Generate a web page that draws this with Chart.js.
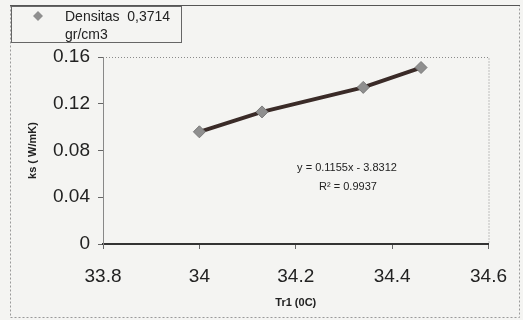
<!DOCTYPE html>
<html>
<head>
<meta charset="utf-8">
<script src="https://cdn.jsdelivr.net/npm/chart.js@4/dist/chart.umd.min.js"></script>
<style>
  html, body { margin: 0; padding: 0; background: #f4f4f2; }
  #wrap { width: 523px; height: 320px; }
</style>
</head>
<body>
<div id="wrap"><canvas id="chart" width="523" height="320"></canvas></div>
<script>
// data
const tr1 = [34.0, 34.13, 34.34, 34.46];
const ks = [0.096, 0.113, 0.134, 0.151];
const seriesLabel = ['Densitas  0,3714', 'gr/cm3'];
const trendText = ['y = 0.1155x - 3.8312', 'R² = 0.9937'];

const points = tr1.map((x, i) => ({ x: x, y: ks[i] }));
const tickFormat = (v) => String(parseFloat(v.toFixed(3)));

// page frame, plot border, legend box and trendline label
const decorations = {
  id: 'decorations',
  beforeDraw(chart) {
    const ctx = chart.ctx;
    ctx.save();
    ctx.fillStyle = '#f4f4f2';
    ctx.fillRect(0, 0, chart.width, chart.height);
    ctx.strokeStyle = '#9a9a9a';
    ctx.lineWidth = 1;
    ctx.setLineDash([2, 2]);
    ctx.strokeRect(10.5, 5.5, 509, 312);
    ctx.setLineDash([]);
    ctx.strokeStyle = '#555';
    ctx.beginPath();
    ctx.moveTo(10, 5.5);
    ctx.lineTo(520, 5.5);
    ctx.stroke();
    // plot area border (dotted, top and right)
    const a = chart.chartArea;
    ctx.strokeStyle = '#8a8a8a';
    ctx.setLineDash([1, 2]);
    ctx.beginPath();
    ctx.moveTo(a.left, a.top + 0.5);
    ctx.lineTo(a.right + 0.5, a.top + 0.5);
    ctx.lineTo(a.right + 0.5, a.bottom);
    ctx.stroke();
    ctx.restore();
  },
  afterDraw(chart) {
    const ctx = chart.ctx;
    ctx.save();
    // legend
    ctx.strokeStyle = '#666';
    ctx.lineWidth = 1;
    ctx.strokeRect(11.5, 6.5, 170, 36);
    ctx.fillStyle = '#8f8f8f';
    ctx.beginPath();
    ctx.moveTo(38, 11);
    ctx.lineTo(43, 16);
    ctx.lineTo(38, 21);
    ctx.lineTo(33, 16);
    ctx.closePath();
    ctx.fill();
    ctx.fillStyle = '#222';
    ctx.font = '14px "Liberation Sans", Arial, sans-serif';
    ctx.textBaseline = 'middle';
    ctx.textAlign = 'left';
    ctx.fillText(seriesLabel[0], 65, 17);
    ctx.fillText(seriesLabel[1], 65, 35);
    // trendline equation
    ctx.font = '11px "Liberation Sans", Arial, sans-serif';
    ctx.textAlign = 'center';
    ctx.fillText(trendText[0], 347, 168);
    ctx.fillText(trendText[1], 348, 187);
    ctx.restore();
  }
};

new Chart(document.getElementById('chart'), {
  type: 'scatter',
  data: {
    datasets: [{
      label: seriesLabel.join(' '),
      data: points,
      showLine: true,
      tension: 0,
      borderColor: '#3a2b28',
      borderWidth: 4,
      pointStyle: 'rectRot',
      pointRadius: 6,
      pointBackgroundColor: '#8f8f8f',
      pointBorderColor: '#7a7a7a',
      pointBorderWidth: 1
    }]
  },
  options: {
    responsive: false,
    animation: false,
    layout: { padding: { top: 57, right: 33, bottom: 0, left: 0 } },
    plugins: {
      legend: { display: false },
      tooltip: { enabled: false }
    },
    scales: {
      x: {
        type: 'linear',
        min: 33.8,
        max: 34.6,
        afterFit: (scale) => { scale.height = 76; },
        ticks: {
          stepSize: 0.2,
          color: '#222',
          padding: 16,
          callback: tickFormat,
          font: { family: '"Liberation Sans", Arial, sans-serif', size: 19 }
        },
        grid: { drawOnChartArea: false, tickLength: 5, tickColor: '#666' },
        border: { color: '#333', width: 2 },
        title: {
          display: true,
          text: 'Tr1 (0C)',
          color: '#222',
          padding: { top: 0, bottom: 10 },
          font: { family: '"Liberation Sans", Arial, sans-serif', size: 11, weight: 'bold' }
        }
      },
      y: {
        min: 0,
        max: 0.16,
        afterFit: (scale) => { scale.width = 103; },
        ticks: {
          stepSize: 0.04,
          color: '#222',
          padding: 8,
          callback: tickFormat,
          font: { family: '"Liberation Sans", Arial, sans-serif', size: 19 }
        },
        grid: { drawOnChartArea: false, tickLength: 5, tickColor: '#666' },
        border: { color: '#888', width: 1 },
        title: {
          display: true,
          text: 'ks ( W/mK)',
          color: '#222',
          padding: { top: 26, bottom: 0 },
          font: { family: '"Liberation Sans", Arial, sans-serif', size: 11, weight: 'bold' }
        }
      }
    }
  },
  plugins: [decorations]
});
</script>
</body>
</html>
